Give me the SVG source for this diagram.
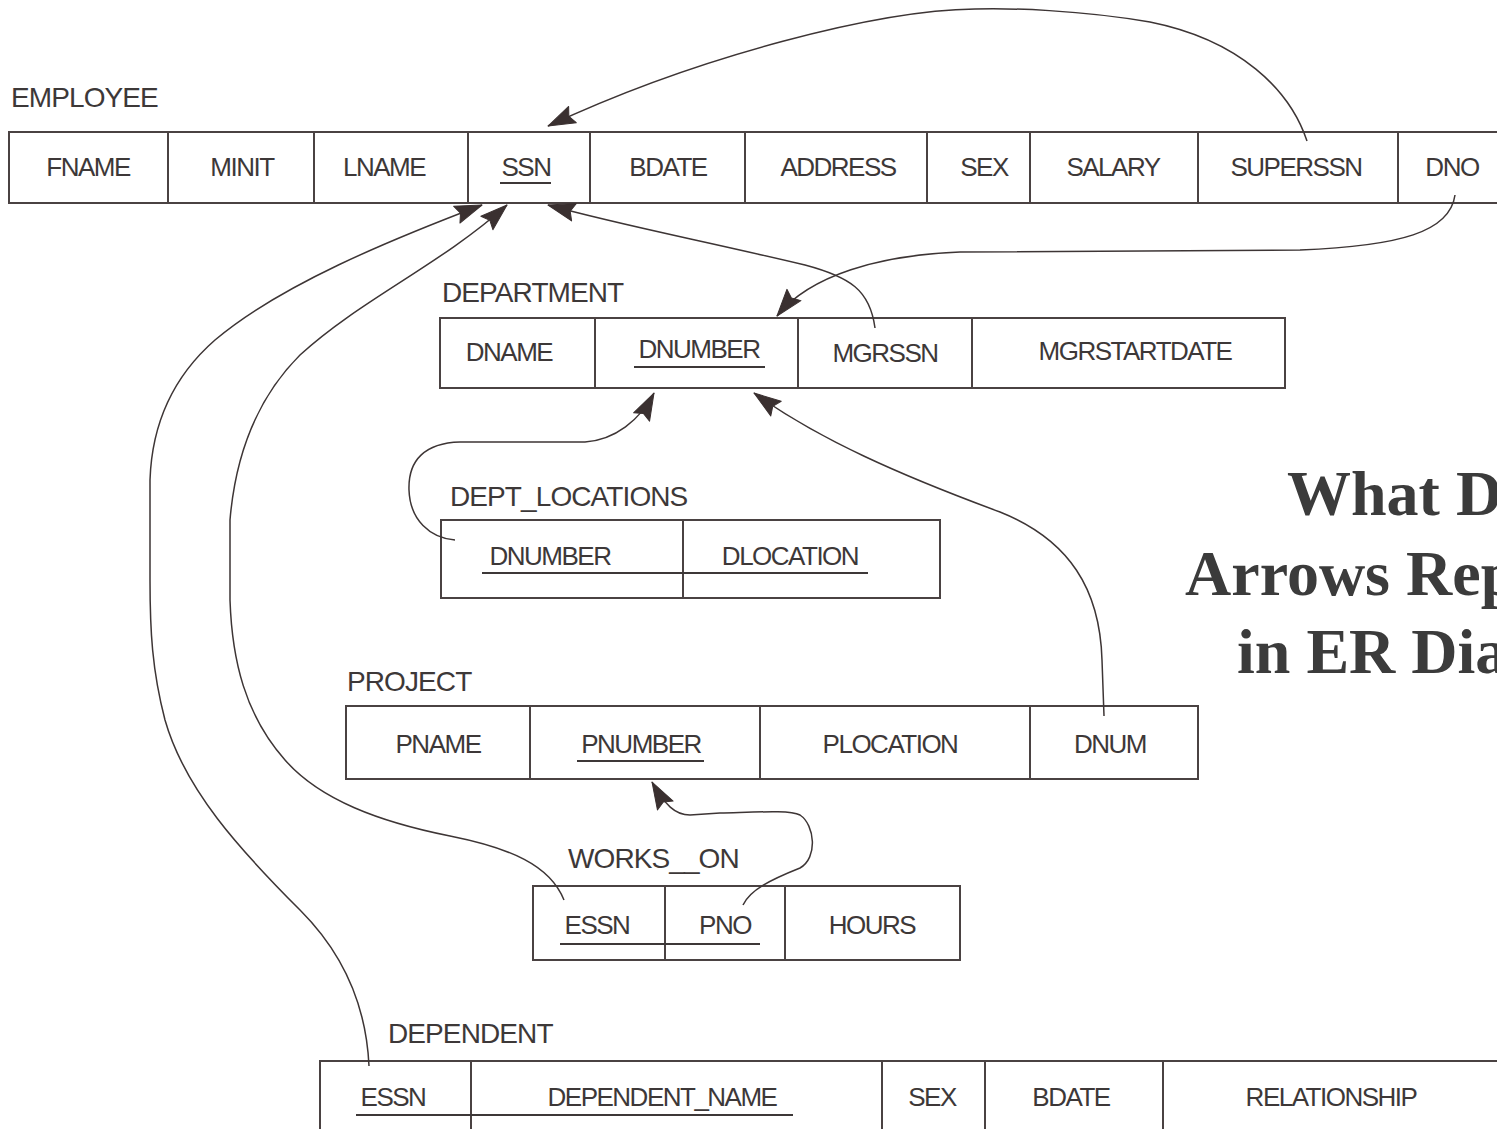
<svg xmlns="http://www.w3.org/2000/svg" width="1497" height="1129" viewBox="0 0 1497 1129">
<defs>
<style>
.lbl{font-family:"Liberation Sans",Arial,sans-serif;font-size:26px;letter-spacing:-1.5px;fill:#3d3838}
.hd{font-family:"Liberation Sans",Arial,sans-serif;font-size:28px;letter-spacing:-0.9px;fill:#3d3838}
.c{text-anchor:middle}
.box{fill:none;stroke:#4a4242;stroke-width:2}
.ul{stroke:#3d3838;stroke-width:2}
.con{fill:none;stroke:#3d3535;stroke-width:1.5;marker-end:url(#ah)}
.ttl{font-family:"Liberation Serif","Times New Roman",serif;font-weight:bold;font-size:64px;fill:#3b3b3b}
</style>
<marker id="ah" markerUnits="userSpaceOnUse" orient="auto" markerWidth="30" markerHeight="22" refX="28" refY="11" viewBox="0 0 30 22">
<path d="M28,11 L1,2 L5,11 L1,20 Z" fill="#3a3030" stroke="#3a3030" stroke-width="1" stroke-linejoin="round"/>
</marker>
</defs>
<rect width="1497" height="1129" fill="#ffffff"/>

<g id="employee">
<text class="hd" x="11" y="107">EMPLOYEE</text>
<rect class="box" x="9" y="132" width="1500" height="71"/>
<path class="box" d="M168,132V203M314,132V203M468,132V203M590,132V203M745,132V203M927,132V203M1030,132V203M1198,132V203M1398,132V203"/>
<text class="lbl c" x="88" y="176">FNAME</text>
<text class="lbl c" x="242" y="176">MINIT</text>
<text class="lbl c" x="384" y="176">LNAME</text>
<text class="lbl c" x="526" y="176">SSN</text>
<line class="ul" x1="500" y1="183" x2="551" y2="183"/>
<text class="lbl c" x="668" y="176">BDATE</text>
<text class="lbl c" x="838" y="176">ADDRESS</text>
<text class="lbl c" x="984" y="176">SEX</text>
<text class="lbl c" x="1113" y="176">SALARY</text>
<text class="lbl c" x="1296" y="176">SUPERSSN</text>
<text class="lbl c" x="1452" y="176">DNO</text>
</g>

<g id="department">
<text class="hd" x="442" y="302">DEPARTMENT</text>
<rect class="box" x="440" y="318" width="845" height="70"/>
<path class="box" d="M595,318V388M798,318V388M972,318V388"/>
<text class="lbl c" x="509" y="361">DNAME</text>
<text class="lbl c" x="699" y="358">DNUMBER</text>
<line class="ul" x1="634" y1="367" x2="765" y2="367"/>
<text class="lbl c" x="885" y="362">MGRSSN</text>
<text class="lbl c" x="1135" y="360">MGRSTARTDATE</text>
</g>

<g id="dept_locations">
<text class="hd" x="450" y="506">DEPT_LOCATIONS</text>
<rect class="box" x="441" y="520" width="499" height="78"/>
<path class="box" d="M683,520V598"/>
<text class="lbl c" x="550" y="565">DNUMBER</text>
<text class="lbl c" x="790" y="565">DLOCATION</text>
<line class="ul" x1="482" y1="573" x2="868" y2="573"/>
</g>

<g id="project">
<text class="hd" x="347" y="691">PROJECT</text>
<rect class="box" x="346" y="706" width="852" height="73"/>
<path class="box" d="M530,706V779M760,706V779M1030,706V779"/>
<text class="lbl c" x="438" y="753">PNAME</text>
<text class="lbl c" x="641" y="753">PNUMBER</text>
<line class="ul" x1="577" y1="761" x2="704" y2="761"/>
<text class="lbl c" x="890" y="753">PLOCATION</text>
<text class="lbl c" x="1110" y="753">DNUM</text>
</g>

<g id="works_on">
<text class="hd" x="568" y="868">WORKS__ON</text>
<rect class="box" x="533" y="886" width="427" height="74"/>
<path class="box" d="M665,886V960M785,886V960"/>
<text class="lbl c" x="597" y="934">ESSN</text>
<text class="lbl c" x="725" y="934">PNO</text>
<text class="lbl c" x="872" y="934">HOURS</text>
<line class="ul" x1="560" y1="944" x2="760" y2="944"/>
</g>

<g id="dependent">
<text class="hd" x="388" y="1043">DEPENDENT</text>
<path class="box" d="M320,1140V1061H1510M471,1061V1140M882,1061V1140M985,1061V1140M1163,1061V1140"/>
<text class="lbl c" x="393" y="1106">ESSN</text>
<text class="lbl c" x="662" y="1106">DEPENDENT_NAME</text>
<line class="ul" x1="356" y1="1115" x2="793" y2="1115"/>
<text class="lbl c" x="932" y="1106">SEX</text>
<text class="lbl c" x="1071" y="1106">BDATE</text>
<text class="lbl c" x="1331" y="1106">RELATIONSHIP</text>
</g>

<g id="title">
<text class="ttl" x="1287" y="515">What D</text>
<text class="ttl" x="1185" y="595">Arrows Rep</text>
<text class="ttl" x="1237" y="673">in ER Dia</text>
</g>

<g id="connectors">
<path class="con" d="M1307,141 C1290,90 1240,40 1150,22 C1080,10 1010,8 975,9 C880,10 700,55 548,126"/>
<path class="con" d="M1455,195 C1450,232 1400,246 1300,250 L960,252 C880,255 810,275 777,316"/>
<path class="con" d="M875,328 C870,290 850,277 805,265 C700,240 620,225 548,205"/>
<path class="con" d="M369,1066 C366,1000 340,950 300,910 C240,850 185,790 165,720 C152,670 150,630 150,580 L150,480 C152,420 175,375 215,340 C280,285 390,240 482,205"/>
<path class="con" d="M564,900 C550,865 510,848 450,836 C380,822 320,800 285,760 C245,715 232,660 230,600 L230,520 C235,460 255,400 300,355 C360,300 440,265 507,205"/>
<path class="con" d="M455,540 C430,538 410,520 409,490 C408,460 425,443 460,442 L585,442 C615,440 640,420 654,393"/>
<path class="con" d="M1104,716 L1102,660 C1100,590 1070,540 1000,512 C900,475 820,440 754,393"/>
<path class="con" d="M743,905 C750,890 770,880 800,868 C818,858 815,825 800,815 C790,810 760,812 720,813 L690,815 C675,815 665,805 652,782"/>
</g>
</svg>
